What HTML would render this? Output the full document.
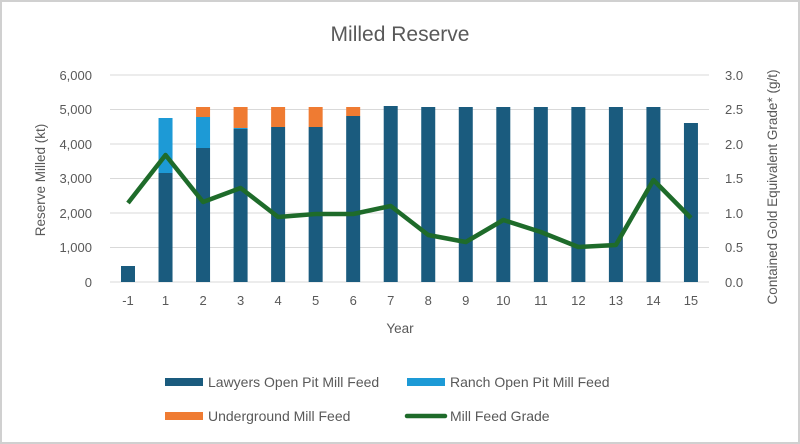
<!DOCTYPE html>
<html><head><meta charset="utf-8"><style>
html,body{margin:0;padding:0;background:#fff}
svg{display:block;font-family:"Liberation Sans",sans-serif}
</style></head><body>
<svg width="800" height="444" viewBox="0 0 800 444">
<rect x="1" y="1" width="798" height="442" fill="#fff" stroke="#d0d0d0" stroke-width="2"/>
<text x="400" y="41" text-anchor="middle" font-size="21" fill="#595959">Milled Reserve</text>
<g stroke="#d9d9d9" stroke-width="1">
<line x1="110" x2="709" y1="75" y2="75"/><line x1="110" x2="709" y1="109.5" y2="109.5"/>
<line x1="110" x2="709" y1="144" y2="144"/><line x1="110" x2="709" y1="178.5" y2="178.5"/>
<line x1="110" x2="709" y1="213" y2="213"/><line x1="110" x2="709" y1="247.5" y2="247.5"/>
<line x1="110" x2="709" y1="282" y2="282"/>
</g>
<g font-size="13" fill="#595959" text-anchor="end">
<text x="92" y="80">6,000</text><text x="92" y="114">5,000</text><text x="92" y="149">4,000</text>
<text x="92" y="183">3,000</text><text x="92" y="218">2,000</text><text x="92" y="252">1,000</text><text x="92" y="287">0</text>
</g>
<g font-size="13" fill="#595959">
<text x="725" y="80">3.0</text><text x="725" y="114">2.5</text><text x="725" y="149">2.0</text>
<text x="725" y="183">1.5</text><text x="725" y="218">1.0</text><text x="725" y="252">0.5</text><text x="725" y="287">0.0</text>
</g>
<text transform="translate(45,180) rotate(-90)" text-anchor="middle" font-size="13.5" fill="#595959">Reserve Milled (kt)</text>
<text transform="translate(777,187) rotate(-90)" text-anchor="middle" font-size="13.5" fill="#595959">Contained Gold Equivalent Grade* (g/t)</text>
<g id="bars"></g>
<g font-size="13" fill="#595959" text-anchor="middle" id="xl"></g>
<text x="400" y="333" text-anchor="middle" font-size="13.5" fill="#595959">Year</text>
<polyline id="ln" fill="none" stroke="#1e6b2a" stroke-width="4.5" stroke-linejoin="round"/>
<rect x="165" y="378" width="38" height="8" fill="#1a5b7e"/>
<text x="208" y="387" font-size="14" fill="#595959">Lawyers Open Pit Mill Feed</text>
<rect x="407" y="378" width="38" height="8" fill="#1d9ad6"/>
<text x="450" y="387" font-size="14" fill="#595959">Ranch Open Pit Mill Feed</text>
<rect x="165" y="412" width="38" height="8" fill="#ef7b32"/>
<text x="208" y="421" font-size="14" fill="#595959">Underground Mill Feed</text>
<line x1="407" x2="445" y1="416" y2="416" stroke="#1e6b2a" stroke-width="4.5" stroke-linecap="round"/>
<text x="450" y="421" font-size="14" fill="#595959">Mill Feed Grade</text>
</svg>
<script>
var labels=["-1","1","2","3","4","5","6","7","8","9","10","11","12","13","14","15"];
// [darkTop, lightTop, orangeTop]
var b=[[266,266,266],[173,118,118],[148,117,107],[129,128,107],[127,127,107],[127,127,107],[116,116,107],[106,106,106],[107,107,107],[107,107,107],[107,107,107],[107,107,107],[107,107,107],[107,107,107],[107,107,107],[123,123,123]];
var ly=[203,155,202,188,217,214,214,206,235,242,220,232,247,245,180,218];
var ns="http://www.w3.org/2000/svg",g=document.getElementById("bars"),xl=document.getElementById("xl"),pts=[];
function r(x,y,h,c){var e=document.createElementNS(ns,"rect");e.setAttribute("x",x);e.setAttribute("y",y);e.setAttribute("width",14);e.setAttribute("height",h);e.setAttribute("fill",c);g.appendChild(e);}
for(var i=0;i<16;i++){var cx=128+i*37.53,x=cx-7;
r(x,b[i][0],282-b[i][0],"#1a5b7e");
if(b[i][1]<b[i][0])r(x,b[i][1],b[i][0]-b[i][1],"#1d9ad6");
if(b[i][2]<b[i][1])r(x,b[i][2],b[i][1]-b[i][2],"#ef7b32");
var t=document.createElementNS(ns,"text");t.setAttribute("x",cx);t.setAttribute("y",305);t.textContent=labels[i];xl.appendChild(t);
pts.push(cx+","+ly[i]);}
document.getElementById("ln").setAttribute("points",pts.join(" "));
</script>
</body></html>
